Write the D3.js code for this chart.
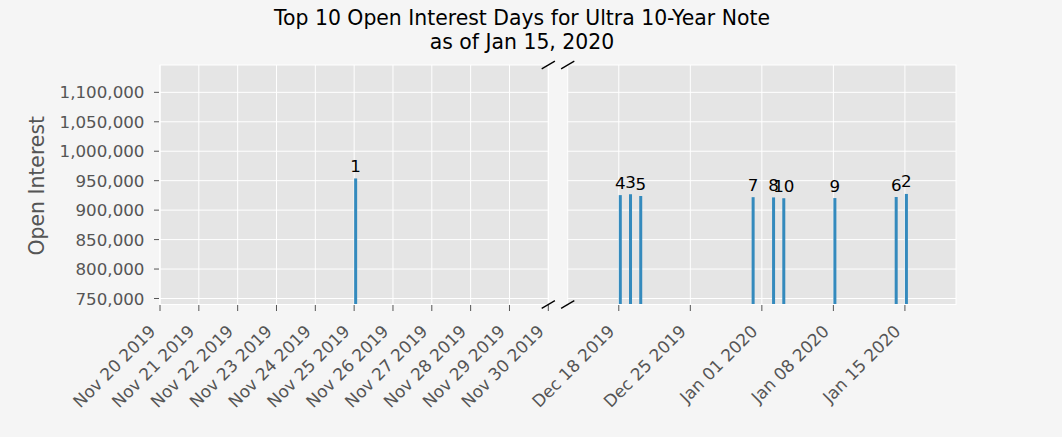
<!DOCTYPE html>
<html>
<head>
<meta charset="utf-8">
<script src="https://cdn.jsdelivr.net/npm/d3@7"></script>
<style>
  html, body { margin: 0; padding: 0; background: #f5f5f5; }
  svg { display: block; }
  text { font-family: "DejaVu Sans", sans-serif; }
</style>
</head>
<body>
<svg id="chart" width="1062" height="437"></svg>
<script>
// ---- data ----
const dates = ["2019-11-25", "2020-01-15", "2019-12-19", "2019-12-18", "2019-12-20",
               "2020-01-14", "2019-12-31", "2020-01-02", "2020-01-08", "2020-01-03"];
const openInterest = [953800, 927500, 927000, 925500, 924000, 922300, 922000, 921600, 920500, 920200];
const ranks = [1, 2, 3, 4, 5, 6, 7, 8, 9, 10];
const yTicks = [750000, 800000, 850000, 900000, 950000, 1000000, 1050000, 1100000];
const yDomain = [739800, 1146400];
const leftDomain = ["2019-11-20", "2019-11-30"];
const rightDomain = ["2019-12-13", "2020-01-20"];
const leftTicks = ["2019-11-20", "2019-11-21", "2019-11-22", "2019-11-23", "2019-11-24", "2019-11-25",
                   "2019-11-26", "2019-11-27", "2019-11-28", "2019-11-29", "2019-11-30"];
const rightTicks = ["2019-12-18", "2019-12-25", "2020-01-01", "2020-01-08", "2020-01-15"];
const titleLines = ["Top 10 Open Interest Days for Ultra 10-Year Note", "as of Jan 15, 2020"];
const yLabel = "Open Interest";

// ---- layout ----
const parse = d3.utcParse("%Y-%m-%d");
const fmtDate = d3.utcFormat("%b %d %Y");
const fmtNum = d3.format(",");
const pTop = 65, pBottom = 304.5;
const L = {x0: 160, x1: 548.3};
const R = {x0: 567.7, x1: 956};
const tickColor = "#555555";
const barColor = "#348ABD";
const barW = 3;

const svg = d3.select("#chart");
svg.append("rect").attr("width", 1062).attr("height", 437).attr("fill", "#f5f5f5");

const y = d3.scaleLinear().domain(yDomain).range([pBottom, pTop]);

const data = dates.map((d, i) => ({date: parse(d), value: openInterest[i], rank: ranks[i]}));

function panel(box, domain, ticks, showY, id) {
  const x = d3.scaleUtc().domain(domain.map(parse)).range([box.x0, box.x1]);
  const [d0, d1] = x.domain();
  const g = svg.append("g");
  g.append("clipPath").attr("id", id).append("rect")
    .attr("x", box.x0).attr("y", pTop).attr("width", box.x1 - box.x0).attr("height", pBottom - pTop);
  g.append("rect").attr("x", box.x0).attr("y", pTop).attr("width", box.x1 - box.x0)
    .attr("height", pBottom - pTop).attr("fill", "#E5E5E5");
  // grid
  const tickDates = ticks.map(parse);
  g.append("g").selectAll("line").data(yTicks).join("line")
    .attr("x1", box.x0).attr("x2", box.x1).attr("y1", d => y(d)).attr("y2", d => y(d))
    .attr("stroke", "#fff").attr("stroke-width", 1);
  g.append("g").selectAll("line").data(tickDates).join("line")
    .attr("x1", d => x(d)).attr("x2", d => x(d)).attr("y1", pTop).attr("y2", pBottom)
    .attr("stroke", "#fff").attr("stroke-width", 1);
  // bars
  const inPanel = data.filter(d => d.date >= d0 && d.date <= d1);
  g.append("g").attr("clip-path", `url(#${id})`).selectAll("rect").data(inPanel).join("rect")
    .attr("x", d => x(d.date)).attr("width", barW)
    .attr("y", d => y(d.value)).attr("height", d => pBottom - y(d.value) + 5)
    .attr("fill", barColor);
  // bar labels
  g.append("g").selectAll("text").data(inPanel).join("text")
    .attr("x", d => x(d.date) + barW / 2).attr("y", d => y(d.value) - 6.5)
    .attr("text-anchor", "middle").attr("font-size", "16.7px").attr("fill", "#000")
    .text(d => d.rank);
  // border
  g.append("rect").attr("x", box.x0).attr("y", pTop).attr("width", box.x1 - box.x0)
    .attr("height", pBottom - pTop).attr("fill", "none").attr("stroke", "#fff").attr("stroke-width", 1);
  // x axis ticks + labels
  const xa = g.append("g");
  xa.selectAll("line").data(tickDates).join("line")
    .attr("x1", d => x(d)).attr("x2", d => x(d)).attr("y1", pBottom + 0.5).attr("y2", pBottom + 6.5)
    .attr("stroke", tickColor).attr("stroke-width", 1);
  xa.selectAll("text").data(tickDates).join("text")
    .attr("transform", d => `translate(${x(d) - 3.3},${pBottom + 27.8}) rotate(-45)`)
    .attr("text-anchor", "end").attr("font-size", "16.9px").attr("fill", tickColor)
    .text(d => fmtDate(d));
  if (showY) {
    const ya = g.append("g");
    ya.selectAll("line").data(yTicks).join("line")
      .attr("x1", box.x0 - 6).attr("x2", box.x0 - 1).attr("y1", d => y(d)).attr("y2", d => y(d))
      .attr("stroke", tickColor).attr("stroke-width", 1);
    ya.selectAll("text").data(yTicks).join("text")
      .attr("x", box.x0 - 15.5).attr("y", d => y(d)).attr("dy", "0.36em")
      .attr("text-anchor", "end").attr("font-size", "16.7px").attr("fill", tickColor)
      .text(d => fmtNum(d));
  }
  return x;
}

panel(L, leftDomain, leftTicks, true, "clipL");
panel(R, rightDomain, rightTicks, false, "clipR");

// break marks
const dx = 6.6, dy = 3.9;
const marks = [[L.x1, pTop], [L.x1, pBottom], [R.x0, pTop], [R.x0, pBottom]];
svg.append("g").selectAll("line").data(marks).join("line")
  .attr("x1", d => d[0] - dx).attr("y1", d => d[1] + dy)
  .attr("x2", d => d[0] + dx).attr("y2", d => d[1] - dy)
  .attr("stroke", "#000").attr("stroke-width", 1.3);

// y label
svg.append("text")
  .attr("transform", `translate(44,${(pTop + pBottom) / 2 + 1}) rotate(-90)`)
  .attr("text-anchor", "middle").attr("font-size", "20.4px").attr("fill", tickColor)
  .text(yLabel);

// title
svg.append("g").selectAll("text").data(titleLines).join("text")
  .attr("x", 522).attr("y", (d, i) => 25 + i * 23.5)
  .attr("text-anchor", "middle").attr("font-size", "20.4px").attr("fill", "#000")
  .text(d => d);
</script>
</body>
</html>
